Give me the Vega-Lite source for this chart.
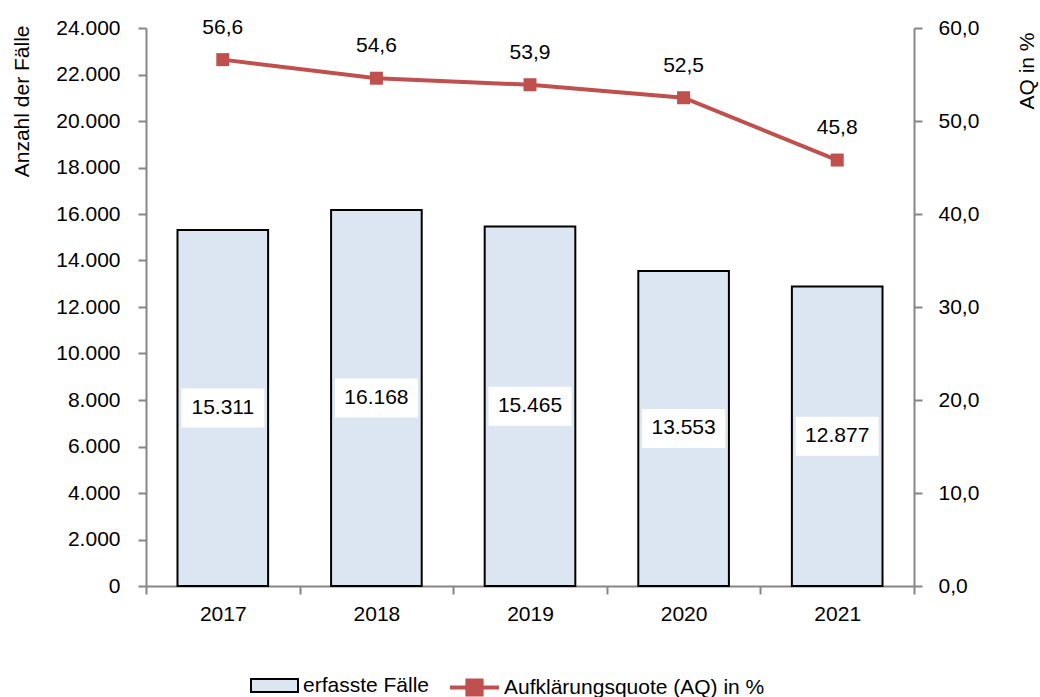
{
  "$schema": "https://vega.github.io/schema/vega-lite/v6.json",
  "width": 768,
  "height": 558,
  "autosize": "none",
  "padding": {"left": 146, "top": 28, "right": 126, "bottom": 111},
  "config": {
    "locale": {"number": {"decimal": ",", "thousands": ".", "grouping": [3], "currency": ["", " €"]}},
    "font": "Liberation Sans",
    "view": {"stroke": null},
    "axis": {
      "domainColor": "#868686", "tickColor": "#868686", "domainWidth": 2, "tickWidth": 2, "tickSize": 8,
      "labelColor": "black", "labelFontSize": 21, "labelFont": "Liberation Sans", "grid": false,
      "titleFont": "Liberation Sans", "titleFontSize": 21, "titleFontWeight": "normal", "titleColor": "black"
    },
    "legend": {"labelFont": "Liberation Sans", "labelFontSize": 21, "labelColor": "black", "labelLimit": 0}
  },
  "data": {"values": [
    {"jahr": "2017", "faelle": 15311, "aq": 56.6},
    {"jahr": "2018", "faelle": 16168, "aq": 54.6},
    {"jahr": "2019", "faelle": 15465, "aq": 53.9},
    {"jahr": "2020", "faelle": 13553, "aq": 52.5},
    {"jahr": "2021", "faelle": 12877, "aq": 45.8}
  ]},
  "encoding": {
    "x": {"field": "jahr", "type": "nominal", "sort": null,
      "scale": {"paddingInner": 0, "paddingOuter": 0},
      "axis": {"title": null, "labelAngle": 0, "tickBand": "extent", "labelPadding": 9}}
  },
  "layer": [
    {
      "encoding": {
        "y": {"field": "faelle", "type": "quantitative",
          "scale": {"domain": [0, 24000], "nice": false},
          "axis": {"title": "Anzahl der Fälle", "values": [0,2000,4000,6000,8000,10000,12000,14000,16000,18000,20000,22000,24000],
            "format": ",.0f", "labelPadding": 18, "titleAngle": 270, "titleX": -124, "titleY": -3, "titleAlign": "right", "titleBaseline": "middle"}}
      },
      "layer": [
        {"mark": {"type": "bar", "stroke": "black", "strokeWidth": 2, "width": {"band": 0.59}},
         "encoding": {"fill": {"datum": "erfasste Fälle", "scale": {"range": ["#dce6f2"]},
           "legend": {"orient": "none", "legendX": 104, "legendY": 633, "title": null, "padding": 0, "labelLimit": 0,
             "symbolType": "M-1,-0.28H1V0.28H-1Z", "symbolSize": 2209, "symbolStrokeColor": "black", "symbolStrokeWidth": 2, "labelOffset": 4}}}},
        {"transform": [{"calculate": "datum.faelle / 2", "as": "mitte"}],
         "layer": [
           {"mark": {"type": "point", "shape": "M-1,-0.47H1V0.47H-1Z", "size": 6889, "filled": true, "color": "white", "opacity": 1},
            "encoding": {"y": {"field": "mitte", "type": "quantitative"}}},
           {"mark": {"type": "text", "fontSize": 21, "color": "black", "baseline": "middle"},
            "encoding": {"y": {"field": "mitte", "type": "quantitative"}, "text": {"field": "faelle", "type": "quantitative", "format": ",.0f"}}}
         ]}
      ]
    },
    {
      "encoding": {
        "y": {"field": "aq", "type": "quantitative",
          "scale": {"domain": [0, 60], "nice": false},
          "axis": {"orient": "right", "title": "AQ in %", "values": [0,10,20,30,40,50,60], "format": ".1f", "labelPadding": 16,
            "titleAngle": 270, "titleX": 113, "titleY": 4, "titleAlign": "right", "titleBaseline": "middle"}}
      },
      "layer": [
        {"mark": {"type": "line", "strokeWidth": 4},
         "encoding": {"stroke": {"datum": "Aufklärungsquote (AQ) in %", "scale": {"range": ["#c0504d"]},
           "legend": {"orient": "none", "legendX": 302, "legendY": 633, "title": null, "padding": 0, "labelLimit": 0,
             "symbolType": "M-1,0H1M-0.29,-0.29H0.29V0.29H-0.29Z", "symbolSize": 2401, "symbolFillColor": "#c0504d", "symbolStrokeColor": "#c0504d", "symbolStrokeWidth": 4, "labelOffset": 3,
             "encode": {"symbols": {"update": {"stroke": {"value": "#c0504d"}, "strokeWidth": {"value": 4}, "fill": {"value": "#c0504d"}}}}}}}},
        {"mark": {"type": "point", "shape": "square", "size": 169, "filled": true, "color": "#c0504d", "opacity": 1}},
        {"mark": {"type": "text", "fontSize": 21, "color": "black", "baseline": "middle", "dy": -32},
         "encoding": {"text": {"field": "aq", "type": "quantitative", "format": ".1f"}}}
      ]
    }
  ],
  "resolve": {"scale": {"y": "independent", "fill": "independent", "stroke": "independent"}}
}
